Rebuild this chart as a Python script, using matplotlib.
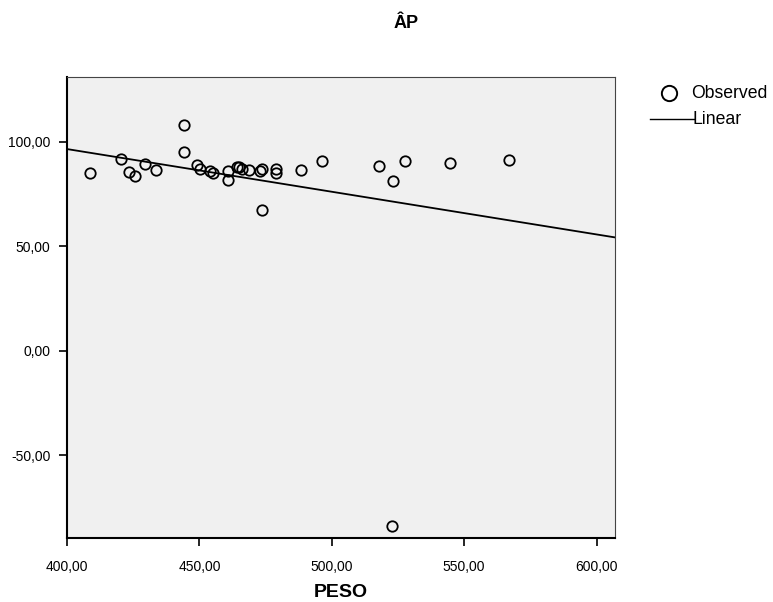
import numpy as np
import matplotlib
matplotlib.use("Agg")
import matplotlib.pyplot as plt
from matplotlib.lines import Line2D
from matplotlib.ticker import FuncFormatter

plt.rcParams['font.family'] = ['Liberation Sans', 'DejaVu Sans']

#%% Datos observados (PESO vs ÂP)
peso = [408.7, 420.5, 423.4, 425.6, 429.5, 433.5, 444.2, 444.2, 449.0, 450.2,
        454.0, 455.0, 460.9, 460.9, 464.1, 465.0, 466.0, 468.9, 472.9, 473.8,
        473.8, 478.8, 478.8, 488.5, 496.3, 518.0, 523.0, 527.8, 522.8, 544.7,
        567.1]
ap = [84.8, 91.6, 85.4, 83.7, 89.2, 86.4, 107.7, 95.0, 88.6, 86.7,
      85.9, 84.8, 85.9, 81.6, 87.7, 87.7, 87.0, 86.2, 85.9, 87.0,
      67.3, 87.0, 84.9, 86.2, 90.7, 88.4, 81.0, 90.7, -83.8, 89.9,
      91.2]

# Ajuste lineal
intercepto = 178.0
pendiente = -0.204

xticks = [400, 450, 500, 550, 600]
yticks = [-50, 0, 50, 100]

fig = plt.figure(figsize=(7.73, 6.02), dpi=100)
ax = fig.add_axes([0.0867, 0.1063, 0.7093, 0.7653])
ax.set_facecolor('#f0f0f0')

xl = (400, 607.1)
ax.set_xlim(xl)
ax.set_ylim(-89.5, 130.7)

xs = np.array(xl)
ax.plot(xs, intercepto + pendiente * xs, color='black', lw=1.3, zorder=2)
ax.plot(peso, ap, 'o', mfc='none', mec='black', ms=7.5, mew=1.3, zorder=3)

fmt = FuncFormatter(lambda v, p: f"{v:.2f}".replace('.', ','))
ax.set_xticks(xticks)
ax.set_yticks(yticks)
ax.xaxis.set_major_formatter(fmt)
ax.yaxis.set_major_formatter(fmt)
ax.tick_params(direction='out', length=6, width=1.2, labelsize=10, colors='black', pad=6)
ax.tick_params(axis='x', pad=10)
for s in ['left', 'bottom']:
    ax.spines[s].set_linewidth(1.5)
for s in ['top', 'right']:
    ax.spines[s].set_linewidth(0.8)
    ax.spines[s].set_color('#444444')

ax.set_xlabel('PESO', fontsize=14, fontweight='bold', labelpad=7)
fig.text(406 / 773, 1 - 23 / 602, 'ÂP', ha='center', va='center', fontsize=13, fontweight='bold')

# Leyenda estilo SPSS
fig.add_artist(Line2D([669 / 773], [1 - 93 / 602], marker='o', mfc='none', mec='black',
                      ms=11, mew=1.4, transform=fig.transFigure))
fig.text(691 / 773, 1 - 93 / 602, 'Observed', ha='left', va='center', fontsize=12.7)
fig.add_artist(Line2D([650 / 773, 694 / 773], [1 - 119 / 602] * 2, color='black', lw=1,
                      transform=fig.transFigure))
fig.text(692 / 773, 1 - 119 / 602, 'Linear', ha='left', va='center', fontsize=12.7)

fig.savefig('out.png', dpi=100)
